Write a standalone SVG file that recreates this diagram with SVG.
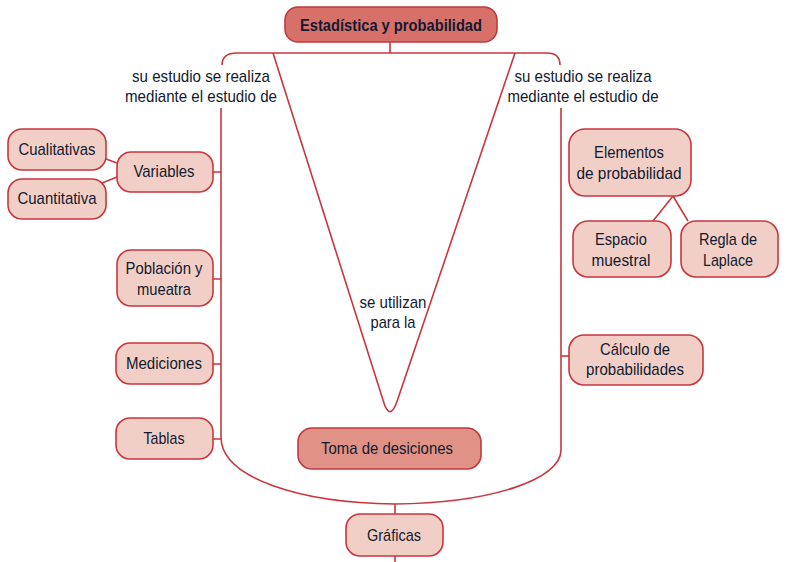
<svg xmlns="http://www.w3.org/2000/svg" width="788" height="562" viewBox="0 0 788 562">
<style>
.ln{fill:none;stroke:#c9363e;stroke-width:1.6}
.nd{fill:#f1cfc6;stroke:#c9363e;stroke-width:1.6}
.top{fill:#d8706a;stroke:#c0393f;stroke-width:1.6}
.dec{fill:#e09286;stroke:#c0393f;stroke-width:1.6}
text{font-family:"Liberation Sans","Noto Sans",sans-serif;font-size:17px;fill:#121a30;text-anchor:middle}
.b{font-weight:bold;font-size:16.5px}
</style>
<rect width="788" height="562" fill="#ffffff"/>
<g id="connectors">
<path class="ln" d="M390,42 V53 M237,53 H547 M237,53 Q222,53 222,65 M547,53 Q560,53 560,65"/>
<path class="ln" d="M221,108 V437 C221,478 300,503 395,504 C490,503 561,480 561,450 V108"/>
<path class="ln" fill="#fff" d="M273,53 L383,400 Q389.7,423.5 397.5,400 L515,53"/>
<path class="ln" d="M395,504 V514 M395,556 V562"/>
<path class="ln" d="M213,172 H221 M213,279 H221 M213,364 H221 M213,439 H221"/>
<path class="ln" d="M106,159 L117,163 M102,183 L117,177"/>
<path class="ln" d="M561,356 H569"/>
<path class="ln" d="M673,196 L653,221 M673,196 L688,221"/>
</g>
<g id="label-left">
<text x="201" y="82" textLength="138" lengthAdjust="spacingAndGlyphs">su estudio se realiza</text>
<text x="201" y="102" textLength="152" lengthAdjust="spacingAndGlyphs">mediante el estudio de</text>
</g>
<g id="label-right">
<text x="583" y="82" textLength="137" lengthAdjust="spacingAndGlyphs">su estudio se realiza</text>
<text x="583" y="102" textLength="151" lengthAdjust="spacingAndGlyphs">mediante el estudio de</text>
</g>
<g id="label-center">
<text x="393" y="308" textLength="67" lengthAdjust="spacingAndGlyphs">se utilizan</text>
<text x="393" y="328" textLength="45" lengthAdjust="spacingAndGlyphs">para la</text>
</g>
<g id="estadistica">
<rect class="top" x="285" y="7" width="212" height="35" rx="13"/>
<text class="b" x="391" y="31" textLength="182" lengthAdjust="spacingAndGlyphs">Estadística y probabilidad</text>
</g>
<g id="cualitativas">
<rect class="nd" x="8" y="129" width="98" height="41" rx="14"/>
<text x="57" y="155" textLength="77" lengthAdjust="spacingAndGlyphs">Cualitativas</text>
</g>
<g id="cuantitativa">
<rect class="nd" x="8" y="179" width="98" height="40" rx="14"/>
<text x="57" y="204" textLength="79" lengthAdjust="spacingAndGlyphs">Cuantitativa</text>
</g>
<g id="variables">
<rect class="nd" x="117" y="152" width="96" height="40" rx="14"/>
<text x="164" y="177" textLength="61" lengthAdjust="spacingAndGlyphs">Variables</text>
</g>
<g id="poblacion">
<rect class="nd" x="117" y="250" width="96" height="56" rx="14"/>
<text x="164" y="274" textLength="77" lengthAdjust="spacingAndGlyphs">Población y</text>
<text x="164" y="295" textLength="54" lengthAdjust="spacingAndGlyphs">mueatra</text>
</g>
<g id="mediciones">
<rect class="nd" x="116" y="343" width="97" height="41" rx="14"/>
<text x="164" y="369" textLength="76" lengthAdjust="spacingAndGlyphs">Mediciones</text>
</g>
<g id="tablas">
<rect class="nd" x="116" y="418" width="97" height="41" rx="14"/>
<text x="164" y="444" textLength="41" lengthAdjust="spacingAndGlyphs">Tablas</text>
</g>
<g id="toma">
<rect class="dec" x="298" y="428" width="183" height="41" rx="14"/>
<text x="387" y="454" textLength="132" lengthAdjust="spacingAndGlyphs">Toma de desiciones</text>
</g>
<g id="graficas">
<rect class="nd" x="346" y="514" width="97" height="42" rx="14"/>
<text x="394" y="541" textLength="54" lengthAdjust="spacingAndGlyphs">Gráficas</text>
</g>
<g id="elementos">
<rect class="nd" x="569" y="129" width="122" height="67" rx="16"/>
<text x="629" y="158" textLength="70" lengthAdjust="spacingAndGlyphs">Elementos</text>
<text x="629" y="179" textLength="105" lengthAdjust="spacingAndGlyphs">de probabilidad</text>
</g>
<g id="espacio">
<rect class="nd" x="573" y="221" width="98" height="56" rx="15"/>
<text x="621" y="245" textLength="52" lengthAdjust="spacingAndGlyphs">Espacio</text>
<text x="621" y="266" textLength="59" lengthAdjust="spacingAndGlyphs">muestral</text>
</g>
<g id="laplace">
<rect class="nd" x="681" y="221" width="97" height="56" rx="15"/>
<text x="728" y="245" textLength="58" lengthAdjust="spacingAndGlyphs">Regla de</text>
<text x="728" y="266" textLength="50" lengthAdjust="spacingAndGlyphs">Laplace</text>
</g>
<g id="calculo">
<rect class="nd" x="569" y="335" width="134" height="50" rx="15"/>
<text x="635" y="355" textLength="70" lengthAdjust="spacingAndGlyphs">Cálculo de</text>
<text x="635" y="375" textLength="98" lengthAdjust="spacingAndGlyphs">probabilidades</text>
</g>
</svg>
